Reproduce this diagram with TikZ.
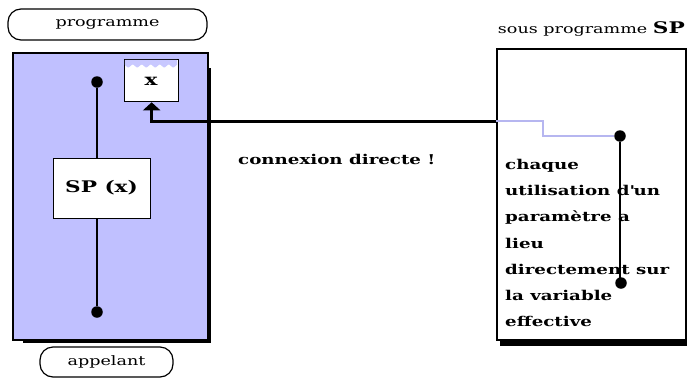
\documentclass[tikz,border=0pt]{standalone}
\usepackage{fontspec}
\setmainfont{DejaVu Serif}[FakeStretch=1.35]
\usetikzlibrary{calc,arrows.meta}

\definecolor{callerfill}{RGB}{192,192,255}
\definecolor{linkblue}{RGB}{182,182,240}
\definecolor{wavefill}{RGB}{200,200,255}

\begin{document}
\begin{tikzpicture}[x=1pt,y=-1pt,
    capsule/.style={draw, line width=1.2pt, rounded corners=13pt, inner sep=0,
      font=\fontsize{13}{15}\selectfont},
    frame/.style={draw, line width=1.6pt, inner sep=0, anchor=north west},
    slot/.style={frame, fill=white, line width=1.3pt},
    dot/.style={circle, fill=black, inner sep=0, minimum size=11.5pt},
    boldlabel/.style={font=\fontsize{13.5}{15}\selectfont\bfseries, inner sep=0},
    biglabel/.style={font=\fontsize{16}{18}\selectfont\bfseries, inner sep=0},
    link/.style={line width=3pt},
    sublink/.style={line width=2.5pt, linkblue},
    stem/.style={line width=1.5pt}]
\useasboundingbox (0,0) rectangle (687,378);

% calling program: drop shadow, then the box itself
\fill (23,68) rectangle (211,343);
\node[frame, fill=callerfill, minimum width=195pt, minimum height=287pt] (caller) at (12,52) {};

\node[capsule, minimum width=199pt, minimum height=31pt] (progcap) at (107.5,24.5) {programme};
\node[capsule, minimum width=133pt, minimum height=30pt] (appcap) at (106.5,362) {appelant};

% parameter slot with its liquid level
\node[slot, minimum width=54pt, minimum height=42pt] (xbox) at (124,59) {};
\fill[wavefill] (124.8,59.8) -- (177.2,59.8) -- plot[domain=177.2:124.8, samples=60] (\x, {66+1.4*sin(\x*40)}) -- cycle;
\node[biglabel] (xlabel) at (151,81) {x};

% call of the sub-program inside the caller
\node[slot, minimum width=97pt, minimum height=60pt] (spbox) at (53,158) {};
\node[biglabel] (splabel) at (101.5,188) {SP (x)};
\node[dot] (cdtop) at (97,82) {};
\node[dot] (cdbot) at (97,312) {};
\draw[stem] (cdtop) -- (cdtop |- spbox.north);
\draw[stem] (spbox.south -| cdbot) -- (cdbot);

% the sub-program
\fill (500,52) rectangle (688,346);
\node[frame, fill=white, minimum width=189pt, minimum height=291pt] (sub) at (496,48) {};
\node[inner sep=0, anchor=base east, font=\fontsize{13}{15}\selectfont] (subtitle) at (685,33)
  {sous programme \fontsize{16}{18}\selectfont\bfseries SP};

\node[dot] (sdtop) at (620,136) {};
\node[dot] (sdbot) at (621,283) {};
\draw[stem] (sdtop) -- (sdtop |- sdbot);

\node[inner sep=0, anchor=north west, align=left,
      font=\fontsize{13.5}{26.2}\selectfont\bfseries] (note) at (505,159)
  {chaque\\utilisation d\textquotesingle un\\paramètre a\\lieu\\directement sur\\la variable\\effective};

% direct link between the actual variable and the formal parameter
\coordinate (entry) at (sub.west |- 0,121);
\draw[sublink] (entry) -- ++(47,0) |- (sdtop);
\draw[link, -{Triangle[width=17pt,length=8pt]}] (entry) -| (xbox.south);

\node[boldlabel, anchor=base west] (direct) at (238,164) {connexion directe !};
\end{tikzpicture}
\end{document}
